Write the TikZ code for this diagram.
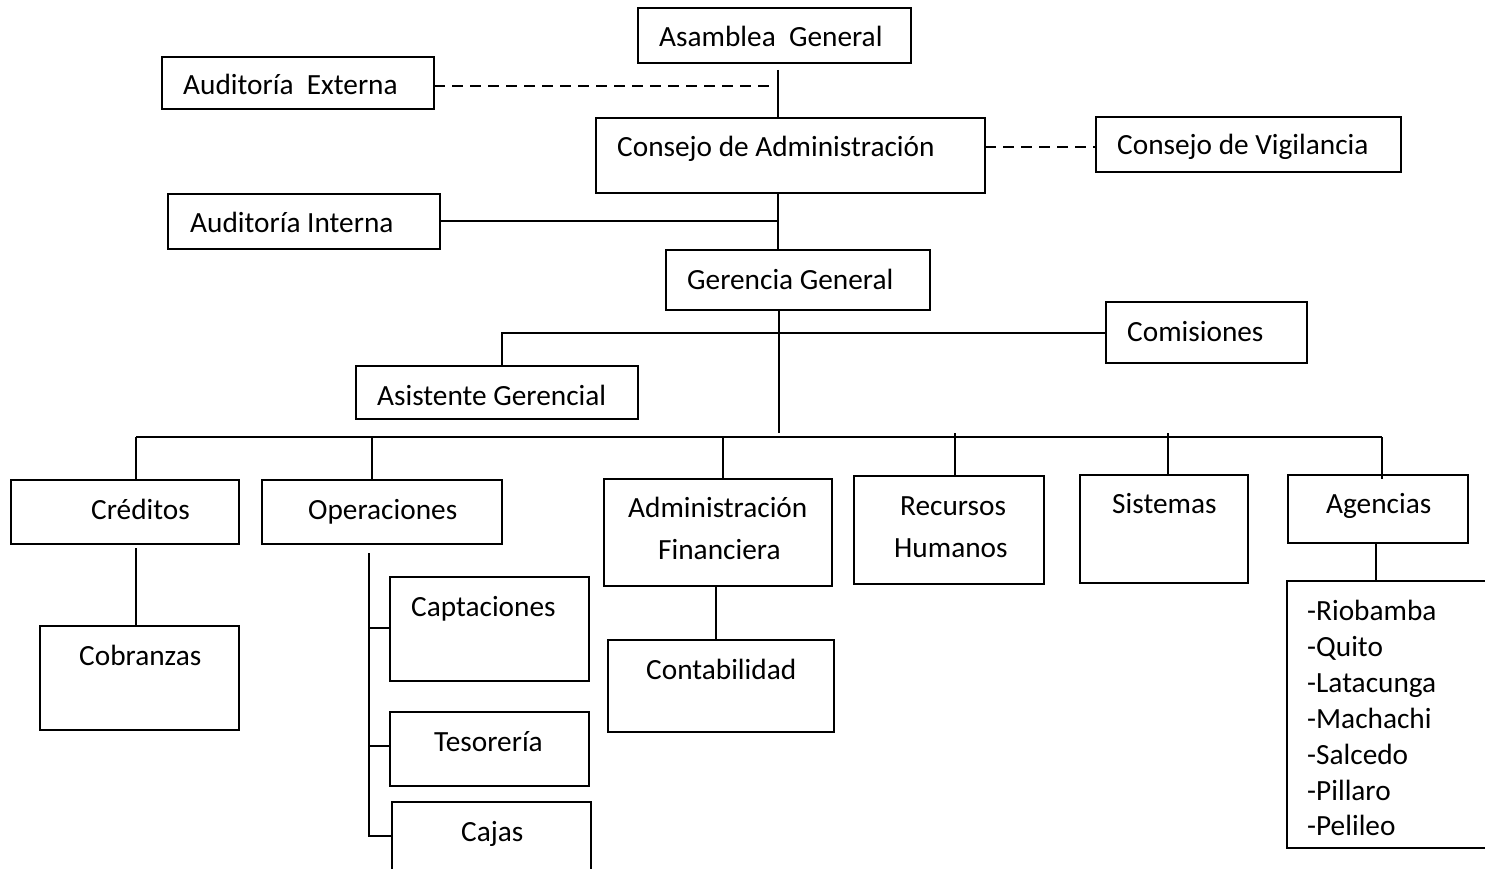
\documentclass[tikz,border=0pt]{standalone}
\usepackage{fontspec}
\setmainfont{Carlito}
\begin{document}
\begin{tikzpicture}[x=1pt,y=-1pt,
  box/.style={draw,line width=1.8pt,inner sep=0pt,outer sep=0pt,anchor=north west},
  txt/.style={anchor=base west,inner sep=0pt,font=\fontsize{29.3}{35}\selectfont},
  conn/.style={line width=1.6pt},
  dconn/.style={line width=1.8pt,dash pattern=on 11pt off 7pt}]
\useasboundingbox (0,0) rectangle (1485,869);
\clip (0,0) rectangle (1485,869);
\fill[white] (0,0) rectangle (1485,869);

% boxes
\node[box,minimum width=273pt,minimum height=55pt] (asam) at (638,8) {};
\node[box,minimum width=272pt,minimum height=52pt] (audext) at (162,57) {};
\node[box,minimum width=389pt,minimum height=75pt] (cad) at (596,118) {};
\node[box,minimum width=305pt,minimum height=55pt] (cvig) at (1096,117) {};
\node[box,minimum width=272pt,minimum height=55pt] (audint) at (168,194) {};
\node[box,minimum width=264pt,minimum height=60pt] (ger) at (666,250) {};
\node[box,minimum width=201pt,minimum height=61pt] (com) at (1106,302) {};
\node[box,minimum width=282pt,minimum height=53pt] (asis) at (356,366) {};
\node[box,minimum width=228pt,minimum height=64pt] (cred) at (11,480) {};
\node[box,minimum width=240pt,minimum height=64pt] (oper) at (262,480) {};
\node[box,minimum width=228pt,minimum height=107pt] (adm) at (604,479) {};
\node[box,minimum width=190pt,minimum height=108pt] (rrhh) at (854,476) {};
\node[box,minimum width=168pt,minimum height=108pt] (sis) at (1080,475) {};
\node[box,minimum width=180pt,minimum height=68pt] (age) at (1288,475) {};
\node[box,minimum width=199pt,minimum height=104pt] (cob) at (40,626) {};
\node[box,minimum width=199pt,minimum height=104pt] (cap) at (390,577) {};
\node[box,minimum width=199pt,minimum height=74pt] (tes) at (390,712) {};
\node[box,minimum width=199pt,minimum height=100pt] (caj) at (392,802) {};
\node[box,minimum width=226pt,minimum height=92pt] (cont) at (608,640) {};
\node[box,minimum width=230pt,minimum height=267pt] (lst) at (1287,581) {};

% texts
\node[txt] (tasam) at (659,47) {Asamblea\ \ General};
\node[txt] (taudext) at (183,95) {Auditoría\ \ Externa};
\node[txt] (tcad) at (617,157) {Consejo de Administración};
\node[txt] (tcvig) at (1117,155) {Consejo de Vigilancia};
\node[txt] (taudint) at (190,233) {Auditoría Interna};
\node[txt] (tger) at (687,289) {Gerencia General};
\node[txt] (tcom) at (1127,341) {Comisiones};
\node[txt] (tasis) at (377,405) {Asistente Gerencial};
\node[txt] (tcred) at (91,519) {Créditos};
\node[txt] (toper) at (308,519) {Operaciones};
\node[txt] (tadm1) at (628,517) {Administración};
\node[txt] (tadm2) at (658,559) {Financiera};
\node[txt] (trrhh1) at (900,515) {Recursos};
\node[txt] (trrhh2) at (894,557) {Humanos};
\node[txt] (tsis) at (1112,513) {Sistemas};
\node[txt] (tage) at (1326,513) {Agencias};
\node[txt] (tcob) at (79,665) {Cobranzas};
\node[txt] (tcap) at (411,616) {Captaciones};
\node[txt] (ttes) at (434,751) {Tesorería};
\node[txt] (tcaj) at (461,841) {Cajas};
\node[txt] (tcont) at (646,679) {Contabilidad};
\node[txt] (l1) at (1307,620) {-Riobamba};
\node[txt] (l2) at (1307,656) {-Quito};
\node[txt] (l3) at (1307,692) {-Latacunga};
\node[txt] (l4) at (1307,728) {-Machachi};
\node[txt] (l5) at (1307,764) {-Salcedo};
\node[txt] (l6) at (1307,800) {-Pillaro};
\node[txt] (l7) at (1307,835) {-Pelileo};

% connectors
\coordinate (tA) at (778,70);
\draw[conn] (tA) -- (tA |- cad.north);
\coordinate (dE) at (773,86);
\draw[dconn] (audext.east |- dE) -- (dE);
\coordinate (dV) at (985,147);
\draw[dconn] (dV) -- (dV -| cvig.west);
\draw[conn] (cad.south -| tA) -- (ger.north -| tA);
\coordinate (aI) at (440,221);
\draw[conn] (aI) -- (aI -| tA);
\coordinate (tG) at (779,433);
\draw[conn] (ger.south -| tG) -- (tG);
\coordinate (bC) at (502,333);
\draw[conn] (asis.north -| bC) -- (bC) -- (bC -| com.west);
\coordinate (busL) at (136,437);
\coordinate (busR) at (1382,437);
\draw[conn] (busL) -- (busR);
\draw[conn] (busL) -- (busL |- cred.north);
\coordinate (dOp) at (372,437);
\draw[conn] (dOp) -- (dOp |- oper.north);
\coordinate (dAd) at (723,437);
\draw[conn] (dAd) -- (dAd |- adm.north);
\coordinate (dRh) at (955,433);
\draw[conn] (dRh) -- (dRh |- rrhh.north);
\coordinate (dSi) at (1168,433);
\draw[conn] (dSi) -- (dSi |- sis.north);
\coordinate (dAg) at (1382,479);
\draw[conn] (busR) -- (dAg);
\coordinate (c1) at (136,548);
\draw[conn] (c1) -- (c1 |- cob.north);
\coordinate (o1) at (369,553);
\coordinate (o2) at (369,836);
\coordinate (oc) at (369,628);
\coordinate (ot) at (369,746);
\draw[conn] (o1) -- (o2) -- (o2 -| caj.west);
\draw[conn] (oc) -- (oc -| cap.west);
\draw[conn] (ot) -- (ot -| tes.west);
\coordinate (a1) at (716,586);
\draw[conn] (a1) -- (a1 |- cont.north);
\coordinate (g1) at (1376,543);
\draw[conn] (g1) -- (g1 |- lst.north);
\end{tikzpicture}
\end{document}
